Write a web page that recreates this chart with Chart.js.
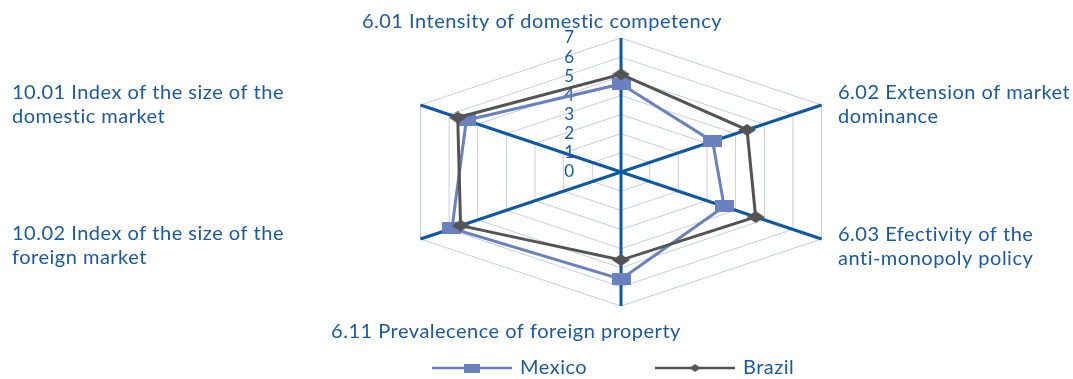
<!DOCTYPE html>
<html>
<head>
<meta charset="utf-8">
<script src="https://cdn.jsdelivr.net/npm/chart.js@4.4.1/dist/chart.umd.min.js"></script>
<style>
  html, body { margin: 0; padding: 0; background: #fff; }
  canvas { display: block; }
</style>
</head>
<body>
<canvas id="chart" width="1073" height="379"></canvas>
<script>
// axis names, clockwise from the top
const categories = [
  ['6.01 Intensity of domestic competency'],
  ['6.02 Extension of market', 'dominance'],
  ['6.03 Efectivity of the', 'anti-monopoly policy'],
  ['6.11 Prevalecence of foreign property'],
  ['10.02 Index of the size of the', 'foreign market'],
  ['10.01 Index of the size of the', 'domestic market']
];
const seriesNames = ['Mexico', 'Brazil'];
const mexico = [4.6, 3.2, 3.6, 5.6, 5.9, 5.4];
const brazil = [5.1, 4.4, 4.7, 4.6, 5.6, 5.7];
const scaleMin = 0;
const scaleMax = 7;
const scaleStep = 1;

const TEXT_BLUE = '#1a5aa3';
const AXIS_BLUE = '#0d58a2';
const GRID = '#c6cde4';
const MEXICO_COLOR = '#6982bf';
const BRAZIL_COLOR = '#545454';
const FONT = 'Lato';
const TITLE_FONT = `20px ${FONT}`;
const TICK_SIZE = 17;

// the original plot is wider than it is tall
const STRETCH_X = 1.728;
const TICK_GAP = 47;

// where the axis names sit (first line baseline)
const labelPlacement = [
  { x: 542, y: 28, align: 'center' },
  { x: 838, y: 99, align: 'left' },
  { x: 838, y: 241, align: 'left' },
  { x: 506, y: 338, align: 'center' },
  { x: 12, y: 240, align: 'left' },
  { x: 12, y: 99, align: 'left' }
];
const legendPlacement = [{ x: 432, y: 368 }, { x: 655, y: 368 }];

class StretchedRadial extends Chart.RadialLinearScale {
  static id = 'stretchedRadial';

  getPointPosition(index, distance, extra = 0) {
    const p = super.getPointPosition(index, distance, extra);
    p.x = this.xCenter + (p.x - this.xCenter) * STRETCH_X;
    return p;
  }

  // tick numbers go left of the vertical axis, 0 included
  drawLabels() {
    const ctx = this.ctx;
    const opts = this.options.ticks;
    ctx.save();
    ctx.font = Chart.helpers.toFont(opts.font).string;
    ctx.fillStyle = opts.color;
    ctx.textAlign = 'right';
    ctx.textBaseline = 'middle';
    this.ticks.forEach(tick => {
      const y = this.yCenter - this.getDistanceFromCenterForValue(tick.value);
      ctx.fillText(tick.label, this.xCenter - TICK_GAP, y);
    });
    ctx.restore();
  }
}
Chart.register(StretchedRadial);

function marker(shape, w, h, color) {
  const c = document.createElement('canvas');
  c.width = w;
  c.height = h;
  const g = c.getContext('2d');
  g.fillStyle = color;
  if (shape === 'rect') {
    g.fillRect(0, 0, w, h);
  } else {
    g.beginPath();
    g.moveTo(w / 2, 0);
    g.lineTo(w, h / 2);
    g.lineTo(w / 2, h);
    g.lineTo(0, h / 2);
    g.closePath();
    g.fill();
  }
  return c;
}

const mexicoMarker = marker('rect', 19, 12, MEXICO_COLOR);
const brazilMarker = marker('diamond', 18, 12, BRAZIL_COLOR);
const mexicoLegendMarker = marker('rect', 16, 9, MEXICO_COLOR);
const brazilLegendMarker = marker('diamond', 11, 8, BRAZIL_COLOR);

const axisTitles = {
  id: 'axisTitles',
  afterDraw(chart) {
    const ctx = chart.ctx;
    ctx.save();
    ctx.font = TITLE_FONT;
    ctx.letterSpacing = '0.5px';
    ctx.fillStyle = TEXT_BLUE;
    ctx.textBaseline = 'alphabetic';
    chart.data.labels.forEach((lines, i) => {
      const pos = labelPlacement[i];
      ctx.textAlign = pos.align;
      lines.forEach((line, j) => ctx.fillText(line, pos.x, pos.y + j * 24));
    });
    ctx.restore();
  }
};

const lineLegend = {
  id: 'lineLegend',
  afterDraw(chart) {
    const ctx = chart.ctx;
    ctx.save();
    chart.data.datasets.forEach((ds, i) => {
      const { x, y } = legendPlacement[i];
      ctx.strokeStyle = ds.borderColor;
      ctx.lineWidth = 2.5;
      ctx.beginPath();
      ctx.moveTo(x, y);
      ctx.lineTo(x + 80, y);
      ctx.stroke();
      const m = ds.legendMarker;
      ctx.drawImage(m, x + 40 - m.width / 2, y - m.height / 2);
      ctx.font = TITLE_FONT;
      ctx.letterSpacing = '0.5px';
      ctx.fillStyle = TEXT_BLUE;
      ctx.textAlign = 'left';
      ctx.textBaseline = 'middle';
      ctx.fillText(ds.label, x + 88, y);
    });
    ctx.restore();
  }
};

new Chart(document.getElementById('chart'), {
  type: 'radar',
  data: {
    labels: categories,
    datasets: [
      {
        label: seriesNames[0],
        data: mexico,
        borderColor: MEXICO_COLOR,
        borderWidth: 3,
        pointStyle: mexicoMarker,
        pointRadius: 6,
        legendMarker: mexicoLegendMarker,
        fill: false,
        clip: false,
        order: 1
      },
      {
        label: seriesNames[1],
        data: brazil,
        borderColor: BRAZIL_COLOR,
        borderWidth: 3,
        pointStyle: brazilMarker,
        pointRadius: 6,
        legendMarker: brazilLegendMarker,
        fill: false,
        clip: false,
        order: 0
      }
    ]
  },
  options: {
    responsive: false,
    animation: false,
    // the radial scale keeps half a tick font of padding on each side
    layout: { padding: { top: 38 - TICK_SIZE / 2, bottom: 73 - TICK_SIZE / 2, left: 169, right: 0 } },
    plugins: {
      legend: { display: false },
      tooltip: { enabled: false }
    },
    scales: {
      r: {
        type: 'stretchedRadial',
        min: scaleMin,
        max: scaleMax,
        ticks: {
          stepSize: scaleStep,
          showLabelBackdrop: false,
          backdropPadding: 0,
          color: TEXT_BLUE,
          font: { family: FONT, size: TICK_SIZE }
        },
        grid: { color: GRID, lineWidth: 1 },
        angleLines: { color: AXIS_BLUE, lineWidth: 3 },
        pointLabels: { display: false }
      }
    }
  },
  plugins: [axisTitles, lineLegend]
});
</script>
</body>
</html>
